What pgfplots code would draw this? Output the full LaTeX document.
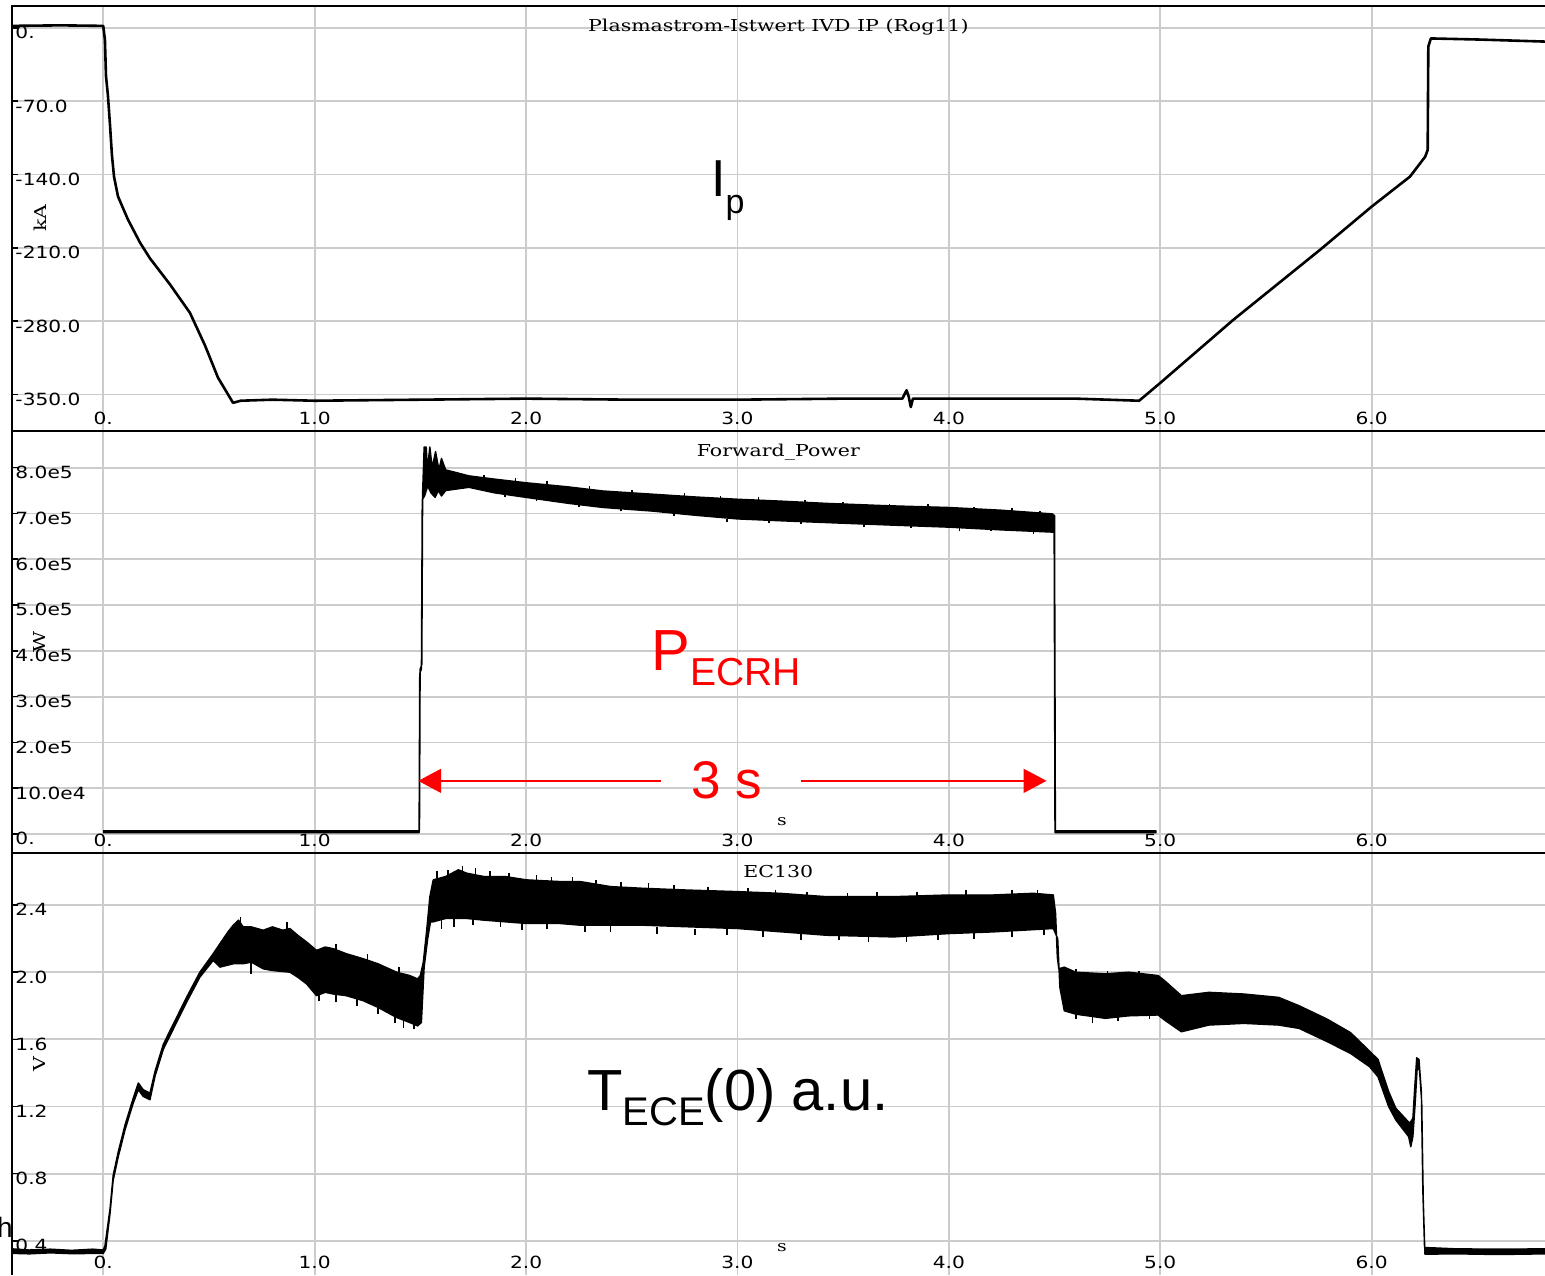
\documentclass[border=0pt]{standalone}
\usepackage{pgfplots}
\pgfplotsset{compat=1.18}
\usetikzlibrary{arrows.meta}
\usepackage{fontspec}
\setmainfont{Liberation Sans}
\newfontfamily\tickfont{DejaVu Sans}[FakeStretch=1.2]
\newfontfamily\titlefont{DejaVu Serif}[FakeStretch=1.25]
\newcommand{\tfs}{\tickfont\fontsize{8.4}{9}\selectfont}
\newcommand{\ttl}{\titlefont\fontsize{8.2}{9}\selectfont}
\pgfplotsset{
  panel/.style={
    scale only axis, width=766.65pt,
    xmin=-0.433, xmax=6.82,
    axis line style={draw=none},
    grid=major, major grid style={draw=gray!40, line width=0.9pt},
    xtick={0,1,2,3,4,5,6},
    xticklabels={0.,1.0,2.0,3.0,4.0,5.0,6.0},
    xtick pos=bottom, ytick pos=left,
    xtick style={draw=none},
    ytick style={draw=black, line width=0.8pt},
    major tick length=3pt, tick align=inside,
    /pgf/number format/assume math mode=true,
    xticklabel style={anchor=south, inner sep=0pt, yshift=3pt, font=\tfs},
    yticklabel style={anchor=north west, inner sep=0pt, xshift=1.7pt, yshift=1pt, font=\tfs},
    set layers, clip mode=individual,
  },
  trace/.style={draw=black, fill=black, line width=0.7pt, line join=round},
  spikes/.style={draw=none, no markers,
    error bars/.cd, y dir=plus, y explicit,
    error bar style={draw=black, line width=0.8pt}, error mark=none},
}
\begin{document}
\begin{tikzpicture}

% ---------------- top panel: plasma current ----------------
\begin{axis}[panel, at={(5.85pt,422pt)}, anchor=south west, height=212.5pt,
  ymin=-384.9, ymax=21.0,
  ytick={-350,-280,-210,-140,-70,0},
  yticklabels={-350.0,-280.0,-210.0,-140.0,-70.0,0.}]
\addplot[black, line width=1.3pt, line join=round] coordinates {
(-0.433,2)(-0.2,2.5)(0.0,2)(0.008,-11.5)(0.013,-45.8)(0.022,-64)(0.032,-92.6)
(0.041,-121)(0.051,-142)(0.070,-161)(0.117,-183)(0.174,-205)(0.221,-220)
(0.316,-245)(0.410,-272)(0.481,-303)(0.543,-334)(0.614,-358)(0.65,-356)
(0.8,-355)(1.0,-356)(1.5,-355)(2.0,-354)(2.5,-355)(3.0,-355)(3.5,-354)
(3.78,-354)(3.80,-346)(3.81,-352)(3.82,-362)(3.83,-354)(4.2,-354)(4.6,-354)
(4.9,-356)(5.0,-339)(5.344,-279)(5.755,-212)(6.0,-170.6)(6.181,-142)
(6.253,-123)(6.265,-116.5)(6.268,-17.8)(6.28,-10)(6.5,-11)(6.82,-13)};
\draw[black, line width=1pt] (rel axis cs:0,0) -- (rel axis cs:0,1) -- (rel axis cs:1,1);
\draw[black, line width=1pt] (rel axis cs:0,0) -- (rel axis cs:1,0);
\node[anchor=north, inner sep=0pt, font=\ttl, yshift=-6.5pt] at (rel axis cs:0.5,1) {Plasmastrom-Istwert IVD IP (Rog11)};
\node[rotate=90, inner sep=0pt, font=\ttl] at (axis cs:-0.30,-181.5) {kA};
\node[anchor=base west, inner sep=0pt, font=\fontsize{26}{26}\selectfont] at (axis cs:2.874,-161.4) {I\raisebox{-8.5pt}{\fontsize{17}{17}\selectfont p}};
\end{axis}

% ---------------- middle panel: forward power ----------------
\begin{axis}[panel, at={(5.85pt,211pt)}, anchor=south west, height=211pt,
  ymin=-0.415, ymax=8.80,
  ytick={0,1,2,3,4,5,6,7,8},
  yticklabels={0.,10.0e4,2.0e5,3.0e5,4.0e5,5.0e5,6.0e5,7.0e5,8.0e5}]
\addplot[trace] coordinates {
(0,0.07)(1.496,0.07)(1.499,3.6)(1.507,3.7)(1.511,7.5)(1.518,8.45)(1.528,8.45)
(1.533,7.95)(1.545,8.45)(1.556,8.0)(1.572,8.35)(1.588,7.95)(1.60,8.2)(1.62,7.95)
(1.68,7.88)(1.73,7.82)(1.85,7.75)(2.0,7.67)(2.2,7.58)(2.364,7.49)(2.6,7.42)
(2.8,7.36)(3.0,7.31)(3.2,7.27)(3.42,7.22)(3.7,7.17)(4.0,7.13)(4.25,7.07)
(4.49,6.99)(4.50,6.95)(4.504,0.07)(4.98,0.07)
(4.98,0.03)(4.502,0.03)(4.498,6.59)(4.25,6.64)(4.0,6.70)(3.7,6.75)(3.42,6.80)
(3.2,6.84)(3.0,6.88)(2.8,6.96)(2.6,7.05)(2.364,7.13)(2.2,7.22)(2.0,7.35)
(1.85,7.45)(1.73,7.57)(1.62,7.5)(1.60,7.38)(1.585,7.5)(1.57,7.35)(1.55,7.45)
(1.535,7.6)(1.52,7.38)(1.509,7.3)(1.505,3.6)(1.497,3.5)(1.494,0.03)(0,0.03)};
\addplot[spikes] coordinates {
(1.80,7.76) +- (0,0.09) (1.95,7.70) +- (0,0.08) (2.10,7.62) +- (0,0.08)
(2.30,7.53) +- (0,0.07) (2.50,7.45) +- (0,0.07) (2.75,7.38) +- (0,0.06)
(2.92,7.33) +- (0,0.05) (3.10,7.29) +- (0,0.06) (3.32,7.24) +- (0,0.05)
(3.50,7.20) +- (0,0.06) (3.72,7.16) +- (0,0.05) (3.90,7.14) +- (0,0.06)
(4.12,7.10) +- (0,0.05) (4.30,7.06) +- (0,0.06) (4.43,7.01) +- (0,0.05)
(1.90,7.35) +- (0,0.07) (2.05,7.28) +- (0,0.05) (2.25,7.15) +- (0,0.05)
(2.45,7.05) +- (0,0.05) (2.70,6.95) +- (0,0.06) (2.95,6.82) +- (0,0.06)
(3.15,6.80) +- (0,0.05) (3.30,6.76) +- (0,0.06) (3.60,6.70) +- (0,0.06)
(3.82,6.68) +- (0,0.05) (4.05,6.62) +- (0,0.07) (4.20,6.61) +- (0,0.05)
(4.40,6.56) +- (0,0.05)};
\draw[black, line width=1pt] (rel axis cs:0,0) -- (rel axis cs:0,1);
\draw[black, line width=1pt] (rel axis cs:0,0) -- (rel axis cs:1,0);
\node[anchor=north, inner sep=0pt, font=\ttl, yshift=-6.5pt] at (rel axis cs:0.5,1) {Forward\_Power};
\node[rotate=90, inner sep=0pt, font=\ttl] at (axis cs:-0.30,4.19) {W};
\node[inner sep=0pt, font=\titlefont\fontsize{7.5}{8}\selectfont] at (axis cs:3.21,0.262) {s};
\node[anchor=base west, inner sep=0pt, text=red, font=\fontsize{29}{29}\selectfont] at (axis cs:2.593,3.58) {P\raisebox{-7.5pt}{\fontsize{19.5}{19.5}\selectfont ECRH}};
\node[anchor=base west, inner sep=0pt, text=red, font=\fontsize{26.5}{26.5}\selectfont] at (axis cs:2.779,0.786) {3 s};
\draw[red, line width=1pt, {Triangle[length=11.5pt,width=12pt]}-] (axis cs:1.49,1.16) -- (axis cs:2.64,1.16);
\draw[red, line width=1pt, -{Triangle[length=11.5pt,width=12pt]}] (axis cs:3.30,1.16) -- (axis cs:4.462,1.16);
\end{axis}

% ---------------- bottom panel: ECE ----------------
\begin{axis}[panel, at={(5.85pt,0pt)}, anchor=south west, height=211pt,
  ymin=0.196, ymax=2.710,
  ytick={0.4,0.8,1.2,1.6,2.0,2.4},
  yticklabels={0.4,0.8,1.2,1.6,2.0,2.4}]
\addplot[trace] coordinates {
(-0.433,0.352)(-0.35,0.345)(-0.25,0.35)(-0.15,0.343)(-0.05,0.35)(0.0,0.345)
(0.008,0.37)(0.032,0.59)(0.047,0.79)(0.071,0.93)(0.103,1.09)(0.142,1.25)
(0.166,1.34)(0.189,1.30)(0.221,1.28)(0.245,1.41)(0.284,1.57)(0.331,1.69)
(0.394,1.85)(0.457,2.00)(0.52,2.11)(0.552,2.17)(0.59,2.24)(0.615,2.28)
(0.64,2.31)(0.662,2.27)(0.70,2.27)(0.757,2.25)(0.80,2.27)(0.85,2.25)
(0.883,2.26)(0.92,2.22)(0.962,2.18)(1.009,2.13)(1.05,2.15)(1.088,2.14)
(1.15,2.11)(1.23,2.08)(1.30,2.05)(1.388,2.00)(1.45,1.98)(1.487,1.96)
(1.50,1.98)(1.514,2.06)(1.53,2.25)(1.545,2.45)(1.561,2.55)(1.62,2.57)
(1.68,2.61)(1.719,2.59)(1.80,2.57)(1.90,2.57)(2.003,2.55)(2.16,2.54)
(2.255,2.54)(2.40,2.51)(2.55,2.50)(2.75,2.49)(3.0,2.48)(3.2,2.47)(3.42,2.45)
(3.6,2.45)(3.74,2.45)(4.0,2.46)(4.21,2.46)(4.40,2.47)(4.494,2.46)(4.505,2.35)
(4.513,2.09)(4.52,2.02)(4.546,2.03)(4.60,2.00)(4.74,1.99)(4.85,2.00)(4.99,1.98)
(5.02,1.95)(5.10,1.86)(5.23,1.88)(5.395,1.87)(5.56,1.85)(5.657,1.80)(5.79,1.72)
(5.90,1.64)(5.99,1.53)(6.03,1.48)(6.08,1.29)(6.114,1.19)(6.18,1.10)(6.195,1.13)
(6.204,1.32)(6.213,1.49)(6.224,1.48)(6.235,1.29)(6.242,0.70)(6.25,0.36)
(6.40,0.352)(6.60,0.35)(6.82,0.352)
(6.82,0.322)(6.60,0.318)(6.40,0.322)(6.252,0.32)(6.244,0.65)(6.237,1.22)
(6.226,1.42)(6.215,1.42)(6.206,1.22)(6.195,1.02)(6.185,0.96)(6.175,1.02)
(6.114,1.12)(6.08,1.20)(6.03,1.377)(5.99,1.437)(5.90,1.516)(5.79,1.586)
(5.657,1.665)(5.56,1.685)(5.395,1.695)(5.23,1.685)(5.10,1.645)(5.02,1.715)
(4.99,1.745)(4.85,1.74)(4.74,1.725)(4.60,1.75)(4.546,1.77)(4.525,1.91)
(4.515,2.20)(4.494,2.26)(4.21,2.24)(4.0,2.23)(3.74,2.21)(3.42,2.22)(3.0,2.26)
(2.55,2.28)(2.255,2.28)(2.16,2.29)(2.003,2.29)(1.80,2.31)(1.719,2.32)
(1.62,2.32)(1.561,2.30)(1.548,2.30)(1.535,2.20)(1.518,2.03)(1.505,1.70)
(1.487,1.68)(1.45,1.70)(1.388,1.73)(1.30,1.79)(1.23,1.83)(1.15,1.86)
(1.088,1.87)(1.05,1.88)(1.009,1.86)(0.962,1.93)(0.92,1.97)(0.883,2.00)
(0.80,2.01)(0.757,2.02)(0.70,2.06)(0.662,2.05)(0.615,2.05)(0.552,2.03)
(0.52,2.07)(0.457,1.97)(0.394,1.82)(0.331,1.66)(0.284,1.54)(0.245,1.38)
(0.221,1.24)(0.189,1.26)(0.166,1.30)(0.142,1.22)(0.103,1.06)(0.071,0.90)
(0.047,0.76)(0.032,0.56)(0.012,0.35)(0.0,0.325)(-0.15,0.323)(-0.25,0.328)
(-0.35,0.322)(-0.433,0.325)};
\addplot[spikes] coordinates {
(0.65,2.28) +- (0,0.05) (0.87,2.24) +- (0,0.06) (1.10,2.12) +- (0,0.05)
(1.25,2.06) +- (0,0.05) (1.40,1.98) +- (0,0.05)
(0.70,1.99) +- (0,0.07) (1.02,1.83) +- (0,0.05) (1.10,1.82) +- (0,0.06)
(1.20,1.80) +- (0,0.05) (1.30,1.75) +- (0,0.05) (1.38,1.70) +- (0,0.05)
(1.42,1.67) +- (0,0.05) (1.47,1.66) +- (0,0.04)
(1.58,2.54) +- (0,0.06) (1.63,2.56) +- (0,0.05) (1.70,2.58) +- (0,0.05)
(1.76,2.57) +- (0,0.05) (1.83,2.56) +- (0,0.04) (1.92,2.55) +- (0,0.04)
(2.05,2.54) +- (0,0.04) (2.12,2.53) +- (0,0.04) (2.22,2.53) +- (0,0.04)
(2.33,2.51) +- (0,0.04) (2.45,2.50) +- (0,0.04) (2.58,2.49) +- (0,0.04)
(2.70,2.48) +- (0,0.04) (2.86,2.48) +- (0,0.03) (3.05,2.47) +- (0,0.03)
(3.18,2.46) +- (0,0.03) (3.33,2.45) +- (0,0.03) (3.52,2.44) +- (0,0.03)
(3.66,2.44) +- (0,0.04) (3.85,2.45) +- (0,0.03) (4.08,2.45) +- (0,0.04)
(4.30,2.46) +- (0,0.03) (4.42,2.46) +- (0,0.03)
(1.60,2.26) +- (0,0.05) (1.66,2.27) +- (0,0.05) (1.75,2.28) +- (0,0.04)
(1.88,2.27) +- (0,0.04) (1.98,2.25) +- (0,0.04) (2.10,2.26) +- (0,0.03)
(2.28,2.24) +- (0,0.04) (2.40,2.24) +- (0,0.04) (2.62,2.23) +- (0,0.04)
(2.80,2.22) +- (0,0.04) (2.95,2.22) +- (0,0.04) (3.12,2.21) +- (0,0.04)
(3.30,2.19) +- (0,0.04) (3.48,2.19) +- (0,0.03) (3.62,2.18) +- (0,0.04)
(3.80,2.18) +- (0,0.04) (3.95,2.19) +- (0,0.04) (4.12,2.20) +- (0,0.04)
(4.30,2.21) +- (0,0.04) (4.45,2.22) +- (0,0.04)
(4.60,1.99) +- (0,0.03) (4.75,1.98) +- (0,0.03) (4.90,1.98) +- (0,0.03)
(4.60,1.72) +- (0,0.04) (4.68,1.70) +- (0,0.04) (4.80,1.71) +- (0,0.03)
(4.95,1.72) +- (0,0.03)};
\draw[black, line width=1pt] (rel axis cs:0,0) -- (rel axis cs:0,1);
\node[anchor=north, inner sep=0pt, font=\ttl, yshift=-6pt] at (rel axis cs:0.5,1) {EC130};
\node[rotate=90, inner sep=0pt, font=\ttl] at (axis cs:-0.30,1.452) {V};
\node[inner sep=0pt, font=\titlefont\fontsize{7.5}{8}\selectfont] at (axis cs:3.21,0.362) {s};
\node[anchor=base west, inner sep=0pt, font=\fontsize{29}{29}\selectfont] at (axis cs:2.287,1.178) {T\raisebox{-7.5pt}{\fontsize{20}{20}\selectfont ECE}(0) a.u.};
\end{axis}
\node[anchor=base east, inner sep=0pt, font=\fontsize{14}{14}\selectfont] at (6.5pt,19pt) {sh};
\pgfresetboundingbox
\path[use as bounding box] (0,0) rectangle (772.5pt,637.5pt);
\end{tikzpicture}
\end{document}
